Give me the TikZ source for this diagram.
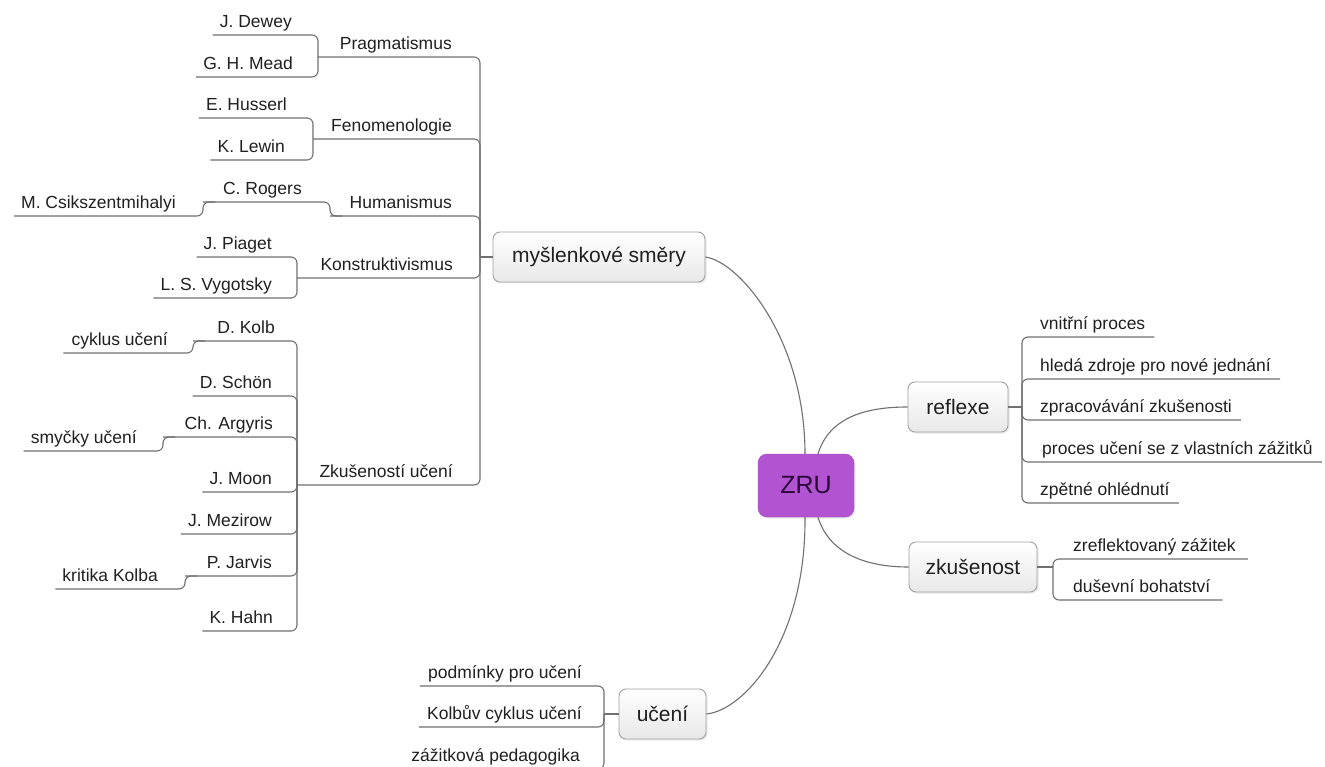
\documentclass[tikz,border=0pt]{standalone}
\usepackage{fontspec}
\setmainfont{Liberation Sans}
\usetikzlibrary{shadows}
\definecolor{linec}{HTML}{707070}
\definecolor{txt}{HTML}{202020}
\definecolor{boxborder}{HTML}{A0A0A0}
\definecolor{zrufill}{HTML}{B253D2}
\definecolor{zruborder}{HTML}{9E45BE}
\definecolor{zrutext}{HTML}{2A0838}
\begin{document}
\begin{tikzpicture}[x=1pt,y=-1pt,
 conn/.style={draw=linec, line width=1.1pt, rounded corners=6pt},
 curve/.style={draw=linec, line width=1.1pt},
 topicbox/.style={draw=boxborder, line width=0.9pt, rounded corners=7pt, top color=white, bottom color=black!9,
   font=\fontsize{21}{24}\selectfont, text=txt, inner sep=0pt,
   drop shadow={opacity=0.18, shadow xshift=1.5pt, shadow yshift=-1.5pt}},
 lbl/.style={font=\fontsize{17.5}{20}\selectfont, text=txt, inner sep=0pt, text height=13pt, text depth=7.5pt},
 lft/.style={lbl, anchor=south east},
 rgt/.style={lbl, anchor=south west}]
\useasboundingbox[fill=white] (0,0) rectangle (1325,767);

% ---------- main topics ----------
\node[draw=zruborder, fill=zrufill, rounded corners=9pt, minimum width=96pt, minimum height=63pt,
  font=\fontsize{25}{28}\selectfont, text=zrutext, inner sep=0pt,
  drop shadow={opacity=0.18, shadow xshift=1.5pt, shadow yshift=-1.5pt}] (zru) at (806,485.5) {ZRU};
\node[topicbox, minimum width=212pt, minimum height=50pt] (mys) at (599,257) {myšlenkové směry};
\node[topicbox, minimum width=100pt, minimum height=50pt] (refl) at (958,407) {reflexe};
\node[topicbox, minimum width=128pt, minimum height=50pt] (zkus) at (973,567) {zkušenost};
\node[topicbox, minimum width=87pt, minimum height=50pt] (uceni) at (662.5,714) {učení};

% ---------- curves from ZRU ----------
\draw[curve] (mys.east) .. controls (740,262) and (805,340) .. ([xshift=-1pt]zru.north);
\draw[curve] ([xshift=12pt]zru.north) .. controls (830,415) and (870,407) .. (refl.west);
\draw[curve] ([xshift=12pt]zru.south) .. controls (830,556) and (870,567) .. (zkus.west);
\draw[curve] ([xshift=-1pt]zru.south) .. controls (806,640) and (745,710) .. (uceni.east);

% ---------- left tree: junctions ----------
\coordinate (jMain) at (480,257);
\coordinate (jPrag) at (318,57);
\coordinate (jFen) at (313,139);
\coordinate (jHum) at (330,216);
\coordinate (jRog) at (203,202);
\coordinate (jKon) at (297,278);
\coordinate (jZk) at (297,485);
\coordinate (jKolb) at (193,341);
\coordinate (jArg) at (163,437);
\coordinate (jJar) at (185,576);

% ---------- left tree: labels ----------
\node[lft] (prag) at (452,57) {Pragmatismus};
\node[lft] (dewey) at (292,35) {J. Dewey};
\node[lft] (mead) at (293,77) {G. H. Mead};
\node[lft] (fen) at (452,139) {Fenomenologie};
\node[lft] (huss) at (287,118) {E. Husserl};
\node[lft] (lewin) at (285,160) {K. Lewin};
\node[lft] (hum) at (452,216) {Humanismus};
\node[lft] (rog) at (302,202) {C. Rogers};
\node[lft] (csik) at (176,216) {M. Csikszentmihalyi};
\node[lft] (kon) at (453,278) {Konstruktivismus};
\node[lft] (piag) at (272,257) {J. Piaget};
\node[lft] (vyg) at (272,298) {L. S. Vygotsky};
\node[lft] (zku) at (453,485) {Zkušeností učení};
\node[lft] (kolb) at (275,341) {D. Kolb};
\node[lft] (cykl) at (168,353) {cyklus učení};
\node[lft] (schon) at (272,396) {D. Schön};
\node[lft] (arg) at (273,437) {Ch. Argyris};
\node[lft] (smyc) at (137,451) {smyčky učení};
\node[lft] (moon) at (272,492) {J. Moon};
\node[lft] (mezi) at (272,534) {J. Mezirow};
\node[lft] (jarv) at (272,576) {P. Jarvis};
\node[lft] (krit) at (158,589) {kritika Kolba};
\node[lft] (hahn) at (273,631) {K. Hahn};

% ---------- left tree: connectors ----------
\draw[conn] (mys.west) -- (jMain);
\draw[conn] (jMain) |- (jPrag);
\draw[conn] (jMain) |- (jFen);
\draw[conn] (jMain) |- (jHum);
\draw[conn] (jMain) |- (jKon);
\draw[conn] (jMain) |- (jZk);

\draw[conn] (jPrag) |- ([xshift=-7pt]dewey.south west);
\draw[conn] (jPrag) |- ([xshift=-7pt]mead.south west);
\draw[conn] (jFen) |- ([xshift=-7pt]huss.south west);
\draw[conn] (jFen) |- ([xshift=-7pt]lewin.south west);
\draw[conn] ([xshift=12pt]jHum) -- (jHum) |- (jRog);
\draw[conn] ([xshift=12pt]jRog) -- (jRog) |- ([xshift=-7pt]csik.south west);
\draw[conn] (jKon) |- ([xshift=-7pt]piag.south west);
\draw[conn] (jKon) |- ([xshift=-7pt]vyg.south west);

\draw[conn] (jZk) |- (jKolb);
\draw[conn] ([xshift=12pt]jKolb) -- (jKolb) |- ([xshift=-8pt]cykl.south west);
\draw[conn] (jZk) |- ([xshift=-7pt]schon.south west);
\draw[conn] (jZk) |- (jArg);
\draw[conn] ([xshift=12pt]jArg) -- (jArg) |- ([xshift=-7pt]smyc.south west);
\draw[conn] (jZk) |- ([xshift=-7pt]moon.south west);
\draw[conn] (jZk) |- ([xshift=-7pt]mezi.south west);
\draw[conn] (jZk) |- (jJar);
\draw[conn] ([xshift=12pt]jJar) -- (jJar) |- ([xshift=-7pt]krit.south west);
\draw[conn] (jZk) |- ([xshift=-7pt]hahn.south west);

% ---------- reflexe ----------
\coordinate (jRef) at (1022,407);
\node[rgt] (vnit) at (1040,337) {vnitřní proces};
\node[rgt] (hled) at (1040,379) {hledá zdroje pro nové jednání};
\node[rgt] (zprac) at (1040,420) {zpracovávání zkušenosti};
\node[rgt] (proc) at (1042,462) {proces učení se z vlastních zážitků};
\node[rgt] (zpet) at (1040,503) {zpětné ohlédnutí};
\draw[conn] (refl.east) -- (jRef);
\draw[conn] (jRef) |- ([xshift=9pt]vnit.south east);
\draw[conn] (jRef) |- ([xshift=9pt]hled.south east);
\draw[conn] (jRef) |- ([xshift=9pt]zprac.south east);
\draw[conn] (jRef) |- ([xshift=9pt]proc.south east);
\draw[conn] (jRef) |- ([xshift=9pt]zpet.south east);

% ---------- zkusenost ----------
\coordinate (jZkus) at (1053,567);
\node[rgt] (zref) at (1073,559) {zreflektovaný zážitek};
\node[rgt] (dus) at (1073,600) {duševní bohatství};
\draw[conn] (zkus.east) -- (jZkus);
\draw[conn] (jZkus) |- ([xshift=12pt]zref.south east);
\draw[conn] (jZkus) |- ([xshift=12pt]dus.south east);

% ---------- uceni ----------
\coordinate (jUc) at (604,714);
\node[lft] (podm) at (582,686) {podmínky pro učení};
\node[lft] (kolbc) at (582,727) {Kolbův cyklus učení};
\node[lft] (zazp) at (580,769) {zážitková pedagogika};
\draw[conn] (uceni.west) -- (jUc);
\draw[conn] (jUc) |- ([xshift=-8pt]podm.south west);
\draw[conn] (jUc) |- ([xshift=-8pt]kolbc.south west);
\draw[conn] (jUc) |- ([xshift=-8pt]zazp.south west);
\end{tikzpicture}
\end{document}
